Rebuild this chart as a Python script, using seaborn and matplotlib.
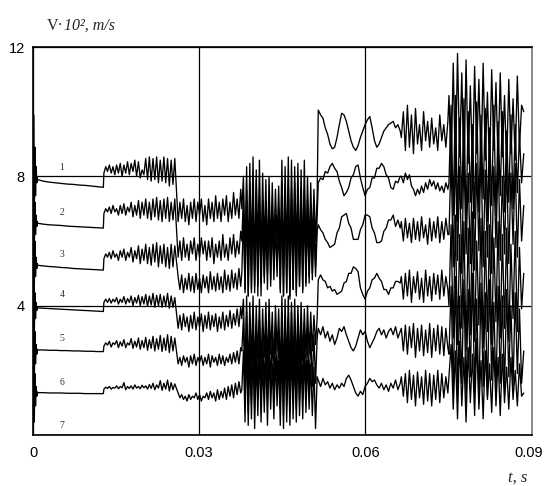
import numpy as np
import pandas as pd
import matplotlib
matplotlib.use("Agg")
import matplotlib.pyplot as plt
import matplotlib.transforms as mtransforms
import seaborn as sns

# ---------------- data ----------------
# time bounds of the recorded segments (s)
seg_bounds = [(0.0, 0.0008), (0.0008, 0.0127), (0.0128, 0.0256), (0.0262, 0.0375),
              (0.0377, 0.0513), (0.0515, 0.0663), (0.0665, 0.0749), (0.0751, 0.0886)]

# series 1
s1_a0 = [0.0, 9.9, 6.5, 8.9, 7.4, 8.3, 7.8, 7.95]
s1_a = [7.9, 7.85, 7.82, 7.8, 7.78, 7.76, 7.75, 7.73, 7.72, 7.7, 7.68, 7.66]
s1_b = [8.1, 8.3, 8.15, 8.35, 8.1, 8.3, 8.05, 8.35, 8.1, 8.4, 8.0, 8.35, 8.1, 8.45, 8.05, 8.4,
        8.15, 8.5, 8.0, 8.45, 7.95, 8.2, 8.05, 8.55, 7.9, 8.6, 7.85, 8.55, 7.9, 8.6, 7.8, 8.5,
        7.85, 8.6, 7.8, 8.55, 7.7, 8.5, 7.75, 8.55]
s1_c = [6.6, 7.2, 6.7, 7.3, 6.6, 7.1, 6.5, 7.2, 6.7, 7.3, 6.6, 7.2, 6.8, 7.3, 6.6, 7.1, 6.5, 7.3,
        6.7, 7.2, 6.6, 7.4, 6.7, 7.2, 6.6, 7.3, 6.8, 7.4, 6.6, 7.2, 6.7, 7.5, 6.8, 7.3, 6.7, 7.6]
s1_d = [7.0, 8.0, 5.6, 8.3, 5.2, 8.4, 5.5, 8.6, 5.1, 8.2, 5.6, 8.5, 5.3, 8.1, 5.8, 7.9, 5.5, 8.0,
        5.7, 7.8, 5.9, 7.6, 6.0, 7.7, 5.6, 8.5, 5.2, 8.3, 5.5, 8.6, 5.1, 8.5, 5.4, 8.3, 5.6, 8.4,
        5.3, 8.2, 5.4, 8.5, 5.6, 8.0, 5.7, 7.8, 5.9, 7.6, 6.0, 7.4]
s1_e1 = [10.05, 9.9, 9.8, 9.5, 9.3, 9.0, 8.85, 8.9, 9.2, 9.6, 9.95, 9.9, 9.7, 9.4, 9.1, 8.9,
         8.8, 8.95, 9.2, 9.4, 9.6, 9.75, 9.85, 9.5, 9.1, 8.9, 9.0, 9.2, 9.4, 9.5, 9.6, 9.65,
         9.7, 9.5, 9.6, 9.4]
s1_e2 = [9.2, 10.0, 8.8, 10.2, 8.9, 9.9, 8.7, 10.1, 9.0, 9.6, 8.8, 10.0, 9.1, 9.7, 8.9, 9.8,
         9.0, 9.5, 8.8, 9.9, 9.1, 9.6, 8.9, 9.7]
s1_f = [10.5, 8.3, 11.5, 8.1, 11.8, 8.6, 11.2, 8.0, 11.6, 8.4, 10.8, 8.2, 11.4, 8.7, 11.0, 8.3,
        11.5, 8.5, 10.6, 8.1, 11.3, 8.8, 10.9, 8.4, 11.2, 8.6, 10.5, 8.3, 11.0, 8.7, 10.4, 8.5,
        11.1, 8.9, 10.2, 10.0]

# series 2
s2_a0 = [0.0, 8.2, 5.6, 7.2, 6.2, 6.8, 6.45, 6.6]
s2_a = [6.55, 6.52, 6.5, 6.49, 6.48, 6.46, 6.45, 6.44, 6.43, 6.42, 6.41, 6.4]
s2_b = [6.85, 7.0, 6.9, 7.05, 6.85, 7.1, 6.9, 7.0, 6.8, 7.1, 6.85, 7.15, 6.8, 7.05, 6.9, 7.2,
        6.75, 7.1, 6.8, 7.25, 6.7, 7.2, 6.8, 7.3, 6.7, 7.2, 6.65, 7.3, 6.75, 7.35, 6.65, 7.25,
        6.6, 7.3, 6.7, 7.35, 6.6, 7.2, 6.65, 7.3]
s2_c = [5.5, 6.0, 5.4, 6.1, 5.5, 5.9, 5.4, 6.0, 5.6, 6.1, 5.4, 5.9, 5.5, 6.1, 5.6, 6.0, 5.4, 6.0,
        5.5, 6.1, 5.3, 5.9, 5.5, 6.0, 5.4, 6.2, 5.5, 5.9, 5.4, 6.1, 5.6, 6.2, 5.5, 6.0, 5.6, 6.3]
s2_d = [6.0, 7.4, 4.5, 7.6, 4.3, 7.8, 4.4, 7.5, 4.6, 7.9, 4.3, 7.4, 4.7, 7.2, 4.9, 7.0, 5.0, 7.3,
        4.8, 7.1, 5.1, 6.8, 5.2, 7.0, 4.5, 7.8, 4.3, 7.7, 4.4, 7.9, 4.2, 7.6, 4.5, 7.8, 4.3, 7.5,
        4.6, 7.7, 4.4, 7.6, 4.7, 7.3, 4.9, 7.1, 5.0, 6.9, 5.2, 6.8]
s2_e1 = [7.8, 7.95, 7.9, 8.15, 8.1, 8.3, 8.4, 8.25, 8.15, 7.85, 7.65, 7.4, 7.5, 7.65, 7.95, 8.05,
         8.3, 8.35, 7.95, 7.65, 7.4, 7.6, 7.65, 7.95, 7.95, 8.25, 8.25, 8.4, 8.3, 8.05, 7.95, 7.65,
         7.6, 7.85, 7.8, 8.0]
s2_e2 = [8.0, 7.8, 8.1, 7.9, 8.05, 7.7, 7.6, 7.4, 7.6, 7.45, 7.7, 7.5, 7.8, 7.6, 7.9, 7.7,
         7.85, 7.6, 7.8, 7.55, 7.7, 7.5, 7.8, 7.6]
s2_f = [7.8, 10.2, 6.8, 10.5, 6.6, 9.8, 7.0, 10.4, 6.5, 10.0, 7.2, 9.6, 6.7, 10.3, 6.9, 9.9,
        7.3, 10.1, 6.6, 9.5, 7.1, 10.2, 6.8, 9.7, 7.4, 10.0, 6.9, 9.4, 7.2, 9.9, 7.0, 9.6, 7.5,
        9.3, 7.8, 8.7]

# series 3
s3_a0 = [0.0, 7.0, 4.4, 6.0, 4.9, 5.5, 5.15, 5.3]
s3_a = [5.25, 5.23, 5.21, 5.2, 5.18, 5.17, 5.15, 5.14, 5.13, 5.12, 5.11, 5.1]
s3_b = [5.45, 5.6, 5.5, 5.65, 5.45, 5.7, 5.5, 5.6, 5.4, 5.7, 5.5, 5.75, 5.4, 5.65, 5.5, 5.8,
        5.35, 5.7, 5.45, 5.85, 5.3, 5.75, 5.4, 5.9, 5.3, 5.8, 5.25, 5.9, 5.35, 5.95, 5.2, 5.85,
        5.3, 5.9, 5.2, 5.8, 5.15, 5.9, 5.2, 5.85]
s3_c = [4.9, 4.5, 4.95, 4.4, 4.85, 4.5, 5.0, 4.45, 4.9, 4.4, 5.0, 4.5, 4.85, 4.4, 4.95, 4.55,
        4.9, 4.4, 5.05, 4.5, 4.9, 4.45, 5.0, 4.5, 4.9, 4.4, 5.1, 4.5, 4.95, 4.45, 5.1, 4.55, 5.0,
        4.5, 5.15, 4.6]
s3_d = [5.0, 6.8, 4.4, 7.2, 4.3, 7.0, 4.5, 7.3, 4.4, 6.9, 4.6, 7.1, 4.3, 6.8, 4.7, 6.6, 4.5, 7.0,
        4.6, 6.7, 4.8, 6.5, 4.9, 6.6, 4.4, 7.2, 4.3, 7.4, 4.4, 7.1, 4.3, 7.3, 4.5, 7.0, 4.4, 7.2,
        4.6, 6.9, 4.5, 7.1, 4.6, 6.8, 4.7, 6.6, 4.8, 6.5, 4.9, 6.3]
s3_e1 = [6.5, 6.35, 6.25, 6.05, 5.95, 5.8, 5.85, 5.9, 6.25, 6.4, 6.75, 6.8, 6.85, 6.55, 6.4,
         6.05, 6.05, 6.05, 6.35, 6.5, 6.8, 6.8, 6.75, 6.4, 6.25, 5.95, 5.95, 6.0, 6.3, 6.4, 6.65,
         6.65, 6.8, 6.45, 6.65, 6.4]
s3_e2 = [6.6, 6.0, 6.7, 6.1, 6.55, 5.95, 6.7, 6.05, 6.6, 6.0, 6.75, 6.1, 6.5, 5.9, 6.7, 6.0,
         6.6, 6.1, 6.75, 5.95, 6.6, 6.05, 6.7, 6.2]
s3_f = [6.2, 8.6, 5.2, 8.9, 5.4, 8.3, 5.0, 8.8, 5.6, 8.1, 5.3, 8.7, 5.1, 8.4, 5.7, 8.9, 5.2, 8.2,
        5.5, 8.6, 5.0, 8.3, 5.8, 8.7, 5.4, 8.0, 5.6, 8.5, 5.3, 8.1, 5.9, 8.4, 5.5, 7.9, 6.0, 7.1]

# series 4
s4_a0 = [0.0, 5.2, 3.0, 4.4, 3.6, 4.1, 3.85, 3.95]
s4_a = [3.93, 3.92, 3.91, 3.9, 3.89, 3.88, 3.87, 3.86, 3.85, 3.84, 3.83, 3.82]
s4_b = [4.1, 4.2, 4.1, 4.22, 4.08, 4.2, 4.12, 4.25, 4.05, 4.2, 4.1, 4.28, 4.05, 4.22, 4.1, 4.3,
        4.0, 4.25, 4.08, 4.32, 4.0, 4.28, 4.05, 4.35, 3.98, 4.3, 4.02, 4.38, 3.95, 4.32, 4.0,
        4.35, 3.95, 4.3, 3.98, 4.38, 3.92, 4.3, 3.95, 4.25]
s4_c = [3.3, 3.7, 3.25, 3.75, 3.35, 3.65, 3.2, 3.7, 3.3, 3.8, 3.25, 3.65, 3.35, 3.75, 3.2, 3.7,
        3.3, 3.8, 3.25, 3.7, 3.35, 3.75, 3.2, 3.65, 3.3, 3.8, 3.25, 3.7, 3.35, 3.85, 3.3, 3.75,
        3.4, 3.9, 3.35, 3.95]
s4_d = [3.6, 4.2, 2.0, 4.3, 1.8, 4.1, 2.2, 4.3, 1.9, 4.0, 2.3, 4.2, 2.0, 3.9, 2.4, 4.1, 2.1, 4.2,
        2.5, 3.8, 2.2, 4.0, 2.6, 3.9, 1.9, 4.3, 1.8, 4.2, 2.0, 4.3, 1.9, 4.1, 2.1, 4.2, 2.0, 4.0,
        2.2, 4.1, 2.3, 3.9, 2.4, 4.0, 2.5, 3.8, 2.6, 3.7, 2.8, 3.6]
s4_e1 = [4.8, 4.95, 4.8, 4.75, 4.55, 4.6, 4.45, 4.5, 4.35, 4.4, 4.45, 4.7, 4.75, 5.0, 5.0, 5.2,
         5.15, 5.05, 4.55, 4.35, 4.2, 4.45, 4.55, 4.8, 4.85, 5.0, 4.85, 4.75, 4.5, 4.5, 4.35,
         4.55, 4.55, 4.75, 4.75, 4.7]
s4_e2 = [4.9, 4.2, 5.0, 4.3, 5.1, 4.1, 4.9, 4.4, 5.05, 4.2, 4.85, 4.1, 5.1, 4.3, 4.9, 4.15,
         5.0, 4.35, 4.95, 4.2, 5.1, 4.3, 4.9, 4.5]
s4_f = [4.0, 6.5, 3.0, 6.8, 2.8, 6.2, 3.3, 6.6, 2.6, 6.4, 3.1, 6.9, 2.9, 6.0, 3.4, 6.7, 2.7, 6.3,
        3.2, 6.5, 2.8, 6.1, 3.5, 6.6, 3.0, 6.2, 3.3, 6.4, 2.9, 5.9, 3.6, 6.3, 3.2, 5.8, 3.9, 5.0]

# series 5
s5_a0 = [0.0, 4.0, 1.6, 3.2, 2.2, 2.8, 2.5, 2.65]
s5_a = [2.63, 2.63, 2.62, 2.62, 2.61, 2.61, 2.6, 2.6, 2.59, 2.59, 2.58, 2.58]
s5_b = [2.75, 2.85, 2.78, 2.9, 2.72, 2.85, 2.8, 2.92, 2.7, 2.88, 2.75, 2.95, 2.7, 2.85, 2.78,
        2.98, 2.68, 2.9, 2.72, 3.0, 2.65, 2.92, 2.7, 3.02, 2.62, 2.95, 2.68, 3.05, 2.6, 2.98,
        2.65, 3.08, 2.58, 3.0, 2.62, 3.1, 2.55, 3.05, 2.6, 3.0]
s5_c = [2.2, 2.4, 2.15, 2.45, 2.25, 2.4, 2.1, 2.45, 2.2, 2.5, 2.15, 2.4, 2.25, 2.45, 2.15, 2.4,
        2.2, 2.5, 2.1, 2.45, 2.25, 2.4, 2.15, 2.5, 2.2, 2.45, 2.15, 2.4, 2.25, 2.5, 2.2, 2.55,
        2.25, 2.6, 2.2, 2.7]
s5_d = [2.6, 3.6, 0.9, 3.8, 0.7, 3.5, 1.0, 3.7, 0.8, 3.4, 1.2, 3.6, 0.9, 3.3, 1.3, 3.5, 1.1, 3.7,
        1.4, 3.2, 1.2, 3.4, 1.5, 3.3, 0.8, 3.8, 0.6, 3.7, 0.9, 3.6, 0.7, 3.8, 1.0, 3.5, 0.8, 3.7,
        1.1, 3.4, 1.2, 3.5, 1.3, 3.3, 1.4, 3.2, 1.5, 3.1, 1.6, 3.0]
s5_e1 = [3.3, 3.1, 3.35, 3.0, 3.2, 2.9, 3.1, 2.8, 3.0, 3.3, 3.2, 3.35, 3.1, 2.9, 2.7, 2.6, 2.75,
         3.0, 3.25, 3.1, 3.2, 2.9, 2.7, 2.85, 3.0, 3.2, 3.3, 3.1, 3.25, 3.0, 3.2, 3.3, 3.1, 3.35,
         3.0, 3.2]
s5_e2 = [3.3, 2.6, 3.4, 2.5, 3.35, 2.7, 3.45, 2.4, 3.3, 2.6, 3.4, 2.45, 3.25, 2.55, 3.45, 2.4,
         3.3, 2.6, 3.4, 2.5, 3.35, 2.45, 3.3, 2.7]
s5_f = [2.5, 4.6, 1.4, 4.9, 1.2, 4.3, 1.6, 4.8, 1.1, 4.5, 1.8, 5.0, 1.3, 4.2, 1.0, 4.7, 1.5, 4.4,
        1.2, 4.8, 1.7, 4.1, 1.3, 4.6, 1.6, 4.3, 1.4, 4.5, 1.8, 4.0, 1.5, 4.4, 1.9, 3.9, 1.6, 2.6]

# series 6
s6_a0 = [0.0, 2.6, 0.4, 1.9, 0.9, 1.5, 1.2, 1.33]
s6_a = [1.31, 1.31, 1.3, 1.3, 1.3, 1.29, 1.29, 1.29, 1.28, 1.28, 1.28, 1.28]
s6_b = [1.42, 1.48, 1.44, 1.5, 1.42, 1.47, 1.45, 1.52, 1.43, 1.5, 1.46, 1.62, 1.4, 1.5, 1.44,
        1.52, 1.42, 1.55, 1.45, 1.5, 1.43, 1.54, 1.46, 1.52, 1.42, 1.56, 1.44, 1.6, 1.4, 1.55,
        1.45, 1.68, 1.38, 1.6, 1.42, 1.7, 1.36, 1.62, 1.4, 1.58]
s6_c = [1.3, 1.15, 1.25, 1.1, 1.2, 1.05, 1.25, 1.1, 1.2, 1.15, 1.3, 1.1, 1.25, 1.05, 1.2, 1.15,
        1.3, 1.1, 1.35, 1.15, 1.3, 1.05, 1.4, 1.1, 1.35, 1.15, 1.45, 1.1, 1.5, 1.2, 1.55, 1.15,
        1.6, 1.25, 1.65, 1.3]
s6_d = [1.4, 2.6, 0.4, 2.8, 0.3, 2.5, 0.5, 2.7, 0.2, 2.4, 0.6, 2.6, 0.4, 2.3, 0.7, 2.5, 0.3, 2.6,
        0.8, 2.2, 0.5, 2.4, 0.9, 2.3, 0.3, 2.7, 0.2, 2.8, 0.4, 2.6, 0.3, 2.7, 0.5, 2.5, 0.4, 2.6,
        0.6, 2.4, 0.5, 2.5, 0.7, 2.3, 0.8, 2.2, 0.6, 2.1, 0.2, 1.8]
s6_e1 = [1.7, 1.5, 1.75, 1.55, 1.65, 1.45, 1.6, 1.4, 1.55, 1.45, 1.6, 1.5, 1.75, 1.85, 1.7, 1.5,
         1.3, 1.2, 1.35, 1.25, 1.5, 1.6, 1.75, 1.65, 1.7, 1.55, 1.45, 1.6, 1.4, 1.55, 1.35, 1.6,
         1.45, 1.7, 1.4, 1.6]
s6_e2 = [1.8, 1.2, 1.9, 1.0, 2.0, 1.1, 1.85, 0.9, 1.95, 1.15, 1.8, 0.95, 2.0, 1.05, 1.9, 0.9,
         1.85, 1.1, 2.0, 1.0, 1.9, 1.15, 1.8, 1.3]
s6_f = [1.8, 2.8, 0.8, 2.6, 0.5, 2.9, 0.9, 2.4, 0.4, 2.7, 1.0, 2.5, 0.6, 3.0, 0.8, 2.3, 0.5, 2.6,
        1.1, 2.2, 0.7, 2.7, 0.9, 2.4, 0.6, 2.5, 1.0, 2.1, 0.8, 2.4, 1.1, 2.0, 0.9, 2.2, 1.2, 1.3]

# series 7 (zero level)
s7_t = [0.0, 0.0886]
s7_v = [0.0, 0.0]

# curve numbers and their positions
curve_labels = ["1", "2", "3", "4", "5", "6", "7"]
label_t = 0.0052
label_v = [8.27, 6.87, 5.57, 4.33, 2.97, 1.62, 0.29]

x_ticks = [0.0, 0.03, 0.06, 0.09]
x_tick_labels = ["0", "0.03", "0.06", "0.09"]
y_ticks = [0, 4, 8, 12]
y_tick_labels = ["", "4", "8", "12"]

series = {
    "1": [s1_a0, s1_a, s1_b, s1_c, s1_d, s1_e1, s1_e2, s1_f],
    "2": [s2_a0, s2_a, s2_b, s2_c, s2_d, s2_e1, s2_e2, s2_f],
    "3": [s3_a0, s3_a, s3_b, s3_c, s3_d, s3_e1, s3_e2, s3_f],
    "4": [s4_a0, s4_a, s4_b, s4_c, s4_d, s4_e1, s4_e2, s4_f],
    "5": [s5_a0, s5_a, s5_b, s5_c, s5_d, s5_e1, s5_e2, s5_f],
    "6": [s6_a0, s6_a, s6_b, s6_c, s6_d, s6_e1, s6_e2, s6_f],
}

rows = []
for name, segs in series.items():
    for (t0, t1), vals in zip(seg_bounds, segs):
        for t, v in zip(np.linspace(t0, t1, len(vals)), vals):
            rows.append({"t": t, "v": v, "trace": name})
for t, v in zip(s7_t, s7_v):
    rows.append({"t": t, "v": v, "trace": "7"})
df = pd.DataFrame(rows)

# ---------------- drawing ----------------
sns.set_style("white")
plt.rcParams["font.family"] = ["Liberation Sans", "DejaVu Sans"]

fig = plt.figure(figsize=(5.44, 4.86), dpi=100)
ax = fig.add_axes([33 / 544, 1 - 435 / 486, 498.5 / 544, 388 / 486])

sns.lineplot(data=df, x="t", y="v", units="trace", estimator=None, sort=False,
             color="black", lw=0.95, ax=ax, legend=False)

ax.set_xlim(0, 0.09)
ax.set_ylim(0, 12)
ax.set_xticks(x_ticks)
ax.set_xticklabels(x_tick_labels)
ax.set_yticks(y_ticks)
ax.set_yticklabels(y_tick_labels)
ax.set_xticks([0.015, 0.045, 0.075], minor=True)
ax.set_yticks([2, 6, 10], minor=True)
ax.tick_params(which="major", direction="out", length=3, width=1, labelsize=10.5, pad=3,
               colors="black")
ax.tick_params(which="minor", direction="out", length=2.5, width=1)
ax.tick_params(axis="x", which="major", pad=5)
ax.set_xlabel("")
ax.set_ylabel("")
ax.grid(True, which="major", color="black", lw=0.9)
for side, sp in ax.spines.items():
    sp.set_visible(True)
    sp.set_color("black")
    sp.set_linewidth(1.2)
ax.spines["right"].set_color("#777777")

# keep the last x tick label inside the figure
last_lab = ax.get_xticklabels()[-1]
last_lab.set_transform(last_lab.get_transform() +
                       mtransforms.ScaledTranslation(-3 / 100, 0, fig.dpi_scale_trans))

for lab, yv in zip(curve_labels, label_v):
    ax.text(label_t, yv, lab, fontsize=7, family="Liberation Serif", color="#333333",
            ha="center", va="center")

# axis titles (serif, partly italic)
t_v = fig.text(47 / 544, 1 - 30 / 486, "V\u00b7", fontsize=11.5, family="Liberation Serif",
               ha="left", va="baseline")
ax.annotate("10\u00b2, m/s", xy=(1, 0), xycoords=t_v, fontsize=11.5,
            family="Liberation Serif", style="italic", ha="left", va="bottom",
            annotation_clip=False)
fig.text(518 / 544, 1 - 478 / 486, "t, s", fontsize=12, family="Liberation Serif",
         style="italic", ha="center", va="center")

fig.savefig("out.png", dpi=100)
